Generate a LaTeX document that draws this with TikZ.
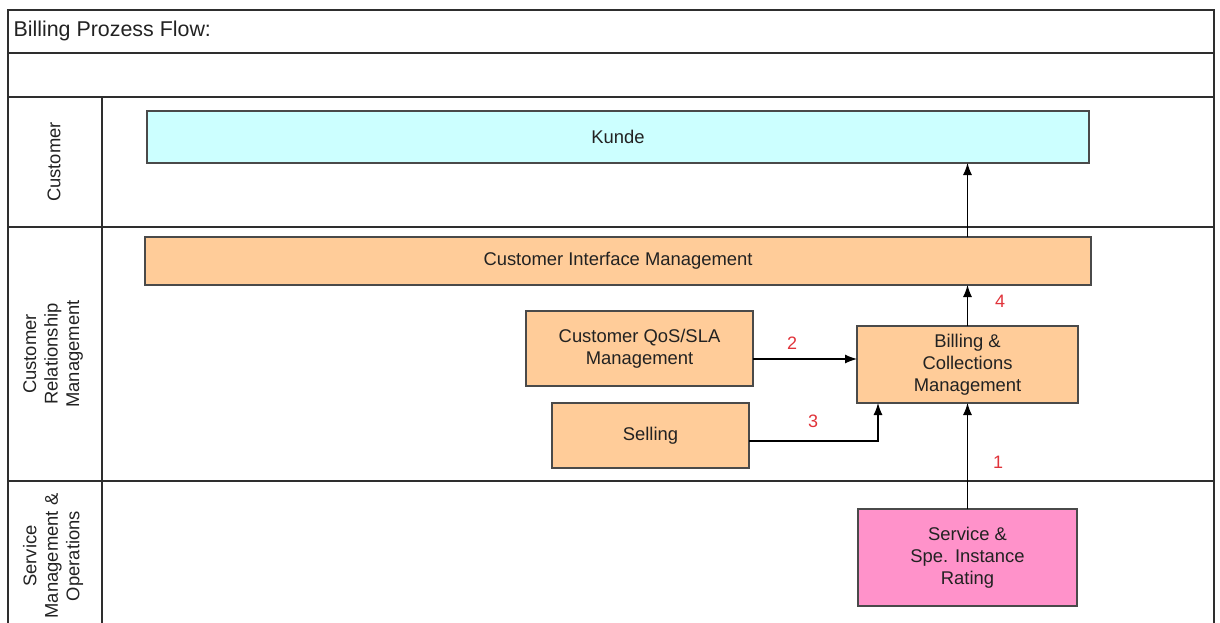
\documentclass[tikz,border=0pt]{standalone}
\usepackage{fontspec}
\setmainfont{Liberation Sans}
\usetikzlibrary{arrows.meta,calc}

\definecolor{framegray}{HTML}{2E2E2E}
\definecolor{boxedge}{HTML}{4A4A4A}
\definecolor{peach}{HTML}{FFCC99}
\definecolor{paleaqua}{HTML}{CCFFFF}
\definecolor{rosepink}{HTML}{FF92CA}
\definecolor{stepred}{HTML}{E0333A}
\definecolor{inktext}{HTML}{222222}

\tikzset{
  frameline/.style={draw=framegray, line width=1.4pt},
  procbox/.style={draw=boxedge, line width=1.3pt, fill=peach, inner sep=0pt, outer sep=0pt,
    anchor=north west, align=center, text=inktext,
    font=\fontsize{18.4}{21.8}\selectfont},
  custbox/.style={procbox, fill=paleaqua},
  ratebox/.style={procbox, fill=rosepink},
  lanelabel/.style={rotate=90, align=center, text=inktext,
    font=\fontsize{18.4}{21.5}\selectfont},
  steplabel/.style={text=stepred, font=\fontsize{18}{21}\selectfont, inner sep=0pt},
  flow/.style={draw=black, line width=1.2pt, -{Latex[length=12pt,width=9pt]}},
}

\begin{document}
\begin{tikzpicture}[x=1pt,y=-1pt]
\useasboundingbox (0,0) rectangle (1220,623);

% pool frame, header rows and lanes
\draw[frameline] (8,623) -- (8,10) -- (1214,10) -- (1214,623);
\draw[frameline] (8,53) -- (1214,53);
\draw[frameline] (8,97) -- (1214,97);
\draw[frameline] (8,227) -- (1214,227);
\draw[frameline] (8,481) -- (1214,481);
\draw[frameline] (102,97) -- (102,623);

\node[anchor=west, text=inktext, font=\fontsize{21.4}{25}\selectfont] (title) at (10,31) {Billing Prozess Flow:};

% lane captions
\node[lanelabel] (laneCust) at (54,162) {Customer};
\node[lanelabel] (laneCRM) at (53,354) {Customer\\Relationship\\Management};
\node[lanelabel] (laneSMO) at (53,556) {Service\\Management \&\\Operations};

% process boxes
\node[custbox, minimum width=942pt, minimum height=52pt] (kunde) at (147,111) {Kunde};
\node[procbox, minimum width=946pt, minimum height=48pt] (cim) at (145,237) {Customer Interface Management};
\node[procbox, minimum width=227pt, minimum height=75pt] (qos) at (526,311) {Customer QoS/SLA\\Management};
\node[procbox, minimum width=197pt, minimum height=65pt] (selling) at (552,403) {Selling};
\node[procbox, minimum width=221pt, minimum height=77pt] (billing) at (857,326) {Billing \&\\Collections\\Management};
\node[ratebox, minimum width=219pt, minimum height=97pt] (rating) at (858,509) {Service \&\\Spe. Instance\\Rating};

% flows
\coordinate (qosOut) at ($(qos.east)+(0,10.5)$);
\coordinate (sellOut) at ($(selling.east)+(0,5.5)$);
\coordinate (sellIn) at ($(billing.south)+(-89.5,0)$);
\coordinate (kundeIn) at (kunde.south -| billing.north);
\coordinate (cimOut) at (cim.north -| billing.north);

\draw[flow] (rating.north) -- (billing.south);
\draw[flow] (billing.north) -- (billing.north |- cim.south);
\draw[flow] (qosOut) -- (qosOut -| billing.west);
\draw[flow] (sellOut) -| (sellIn);
\draw[flow] (cimOut) -- (kundeIn);

% step numbers
\node[steplabel] (n1) at (998,462) {1};
\node[steplabel] (n2) at (792,343) {2};
\node[steplabel] (n3) at (813,421) {3};
\node[steplabel] (n4) at (1000,301) {4};
\end{tikzpicture}
\end{document}
